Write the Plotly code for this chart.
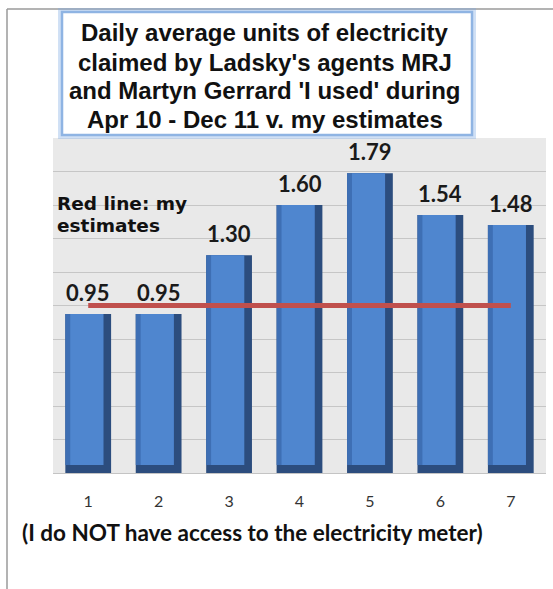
import plotly.graph_objects as go

# ---- data ----
categories = [1, 2, 3, 4, 5, 6, 7]
claimed_units = [0.95, 0.95, 1.30, 1.60, 1.79, 1.54, 1.48]
value_labels = ["0.95", "0.95", "1.30", "1.60", "1.79", "1.54", "1.48"]
estimate_x = [1, 7]
estimate_units = [1.0, 1.0]
tick_labels = ["1", "2", "3", "4", "5", "6", "7"]

title_lines = [
    "Daily average units of electricity",
    "claimed by Ladsky's agents MRJ",
    "and Martyn Gerrard 'I used' during",
    "Apr 10 - Dec 11 v. my estimates",
]
note_lines = ["Red line: my", "estimates"]
footer_text = "(I do NOT have access to the electricity meter)"

# ---- styling constants ----
BAR_W = 0.65
BEVEL_Y = 0.048
DARK = "#2c4d7e"
LEFT = "#3e6fb4"
FACE = "#4f86cf"

fig = go.Figure()

# dark body (right side + bottom bevel)
fig.add_trace(go.Bar(
    x=categories, y=claimed_units, width=BAR_W, offset=-BAR_W / 2,
    marker=dict(color=DARK, line=dict(width=0)), hoverinfo="skip", showlegend=False,
))
# left strip
fig.add_trace(go.Bar(
    x=categories, y=[v - BEVEL_Y for v in claimed_units], base=BEVEL_Y,
    width=BAR_W - 0.11, offset=-BAR_W / 2,
    marker=dict(color=LEFT, line=dict(width=0)), hoverinfo="skip", showlegend=False,
))
# front face
fig.add_trace(go.Bar(
    x=categories, y=[v - BEVEL_Y for v in claimed_units], base=BEVEL_Y,
    width=BAR_W - 0.18, offset=-BAR_W / 2 + 0.07,
    marker=dict(color=FACE, line=dict(width=0)), hoverinfo="skip", showlegend=False,
))

# red estimate line
fig.add_trace(go.Scatter(
    x=estimate_x, y=estimate_units, mode="lines",
    line=dict(color="#c0504d", width=5), hoverinfo="skip", showlegend=False,
))

annotations = []
for c, v, lab in zip(categories, claimed_units, value_labels):
    annotations.append(dict(
        x=c, y=v, xref="x", yref="y", text=lab, showarrow=False,
        yanchor="bottom", yshift=6,
        font=dict(family="Lato", size=22, color="#1a1a1a", weight="bold"),
    ))

# title lines
title_y = [1.3149, 1.2254, 1.1409, 1.0567]
for t, yy in zip(title_lines, title_y):
    annotations.append(dict(
        x=0.430, y=yy, xref="paper", yref="paper", text="<b>" + t + "</b>",
        showarrow=False, xanchor="center", yanchor="middle",
        font=dict(family="Liberation Sans", size=24, color="#111111"),
    ))

# red line note
for t, yy in zip(note_lines, [0.803, 0.7388]):
    annotations.append(dict(
        x=0.004, y=yy, xref="paper", yref="paper", text="<b>" + t + "</b>",
        showarrow=False, xanchor="left", yanchor="middle",
        font=dict(family="DejaVu Sans", size=18.5, color="#111111"),
    ))

# footer
annotations.append(dict(
    x=-0.0669, y=-0.179, xref="paper", yref="paper", text="<b>" + footer_text + "</b>",
    showarrow=False, xanchor="left", yanchor="middle",
    font=dict(family="Lato", size=22.5, color="#111111"),
))

shapes = [
    # outer frame lines
    dict(type="line", xref="paper", yref="paper", x0=-0.0933, x1=1.02, y0=1.385, y1=1.385,
         line=dict(color="#9a9a9a", width=1.5)),
    dict(type="line", xref="paper", yref="paper", x0=-0.0933, x1=-0.0933, y0=1.385, y1=-0.36,
         line=dict(color="#9a9a9a", width=1.5)),
    # title box glow
    dict(type="rect", xref="paper", yref="paper", x0=0.0183, x1=0.8499, y0=1.00896, y1=1.3761,
         line=dict(color="rgba(120,165,225,0.35)", width=8), fillcolor="white", layer="above"),
    dict(type="rect", xref="paper", yref="paper", x0=0.0183, x1=0.8499, y0=1.00896, y1=1.3761,
         line=dict(color="#8fb4e3", width=2.5), fillcolor="white", layer="above"),
]

fig.update_layout(
    width=553, height=589,
    margin=dict(l=53, r=7, t=138, b=116),
    paper_bgcolor="white",
    plot_bgcolor="#e9e9e9",
    barmode="overlay",
    annotations=annotations,
    shapes=shapes,
    xaxis=dict(
        range=[0.5, 7.5], tickvals=categories, ticktext=tick_labels,
        showgrid=False, zeroline=False, showline=True, linecolor="#c4c4c4", linewidth=1,
        ticks="", ticklabelstandoff=14,
        tickfont=dict(family="Lato", size=16, color="#333333"),
        fixedrange=True,
    ),
    yaxis=dict(
        range=[0, 2.0], dtick=0.2, showticklabels=False,
        showgrid=True, gridcolor="#c6c6c6", gridwidth=1, zeroline=False,
        fixedrange=True,
    ),
)

fig.write_html("out.html")
